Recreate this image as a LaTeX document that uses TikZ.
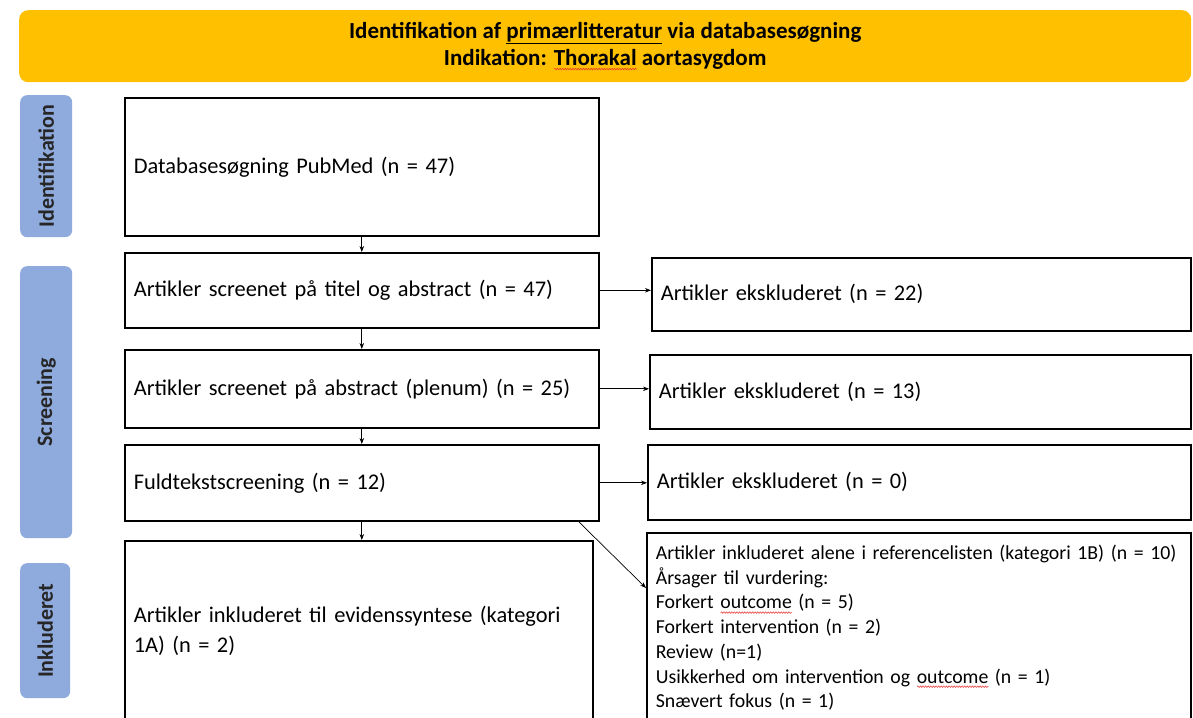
\documentclass[tikz,border=0pt]{standalone}
\usepackage{fontspec}
\setmainfont{Carlito}
\usetikzlibrary{arrows.meta,calc,decorations.pathmorphing}
\definecolor{headerorange}{HTML}{FFC000}
\definecolor{phaseblue}{HTML}{8FAADC}
\definecolor{spellred}{HTML}{E8322B}
% red wavy underline for flagged words
\newsavebox\wavebox
\newlength\wavelen
\newcommand\spellwave[1]{\leavevmode\sbox\wavebox{#1}\setlength\wavelen{\wd\wavebox}%
  \rlap{\tikz[baseline=0pt]\draw[spellred,line width=0.5pt,rounded corners=0pt,
      decorate,decoration={snake,amplitude=0.8pt,segment length=2.6pt}]
      (0pt,-3.6pt) -- (\wavelen,-3.6pt);}#1}
\begin{document}
\begin{tikzpicture}[x=1pt,y=-1pt,
  header/.style={draw=none,fill=headerorange,rounded corners=9pt,anchor=north west,
    minimum width=1172pt,minimum height=72pt,align=center,
    font=\fontsize{23}{27}\selectfont\bfseries},
  phase/.style={draw=none,fill=phaseblue,rounded corners=7pt,anchor=north west,
    minimum width=52pt},
  phasetext/.style={rotate=90,font=\fontsize{22}{24}\selectfont\bfseries,text=black!85},
  flowbox/.style={draw=black,line width=1.6pt,anchor=north west,align=left,
    inner xsep=9pt,font=\fontsize{22.4}{30}\selectfont},
  conn/.style={line width=0.7pt,-{Stealth[length=6pt,width=4.5pt]}}
]
\useasboundingbox (0,0) rectangle (1193,717);
\clip (0,0) rectangle (1193,717);
\fill[white] (0,0) rectangle (1193,717);

% title banner
\node[header] (hdr) at (19,10) {Identifikation af \underline{primærlitteratur} via databasesøgning\\
  Indikation: \spellwave{Thorakal} aortasygdom};

% phase labels
\node[phase,minimum height=142pt] (pid) at (20,95) {};
\node[phasetext] (tid) at (pid.center) {Identifikation};
\node[phase,minimum height=272pt] (psc) at (20,266) {};
\node[phasetext] (tsc) at (psc.center) {Screening};
\node[phase,minimum height=135pt,minimum width=50pt] (pin) at (20,563) {};
\node[phasetext] (tin) at (pin.center) {Inkluderet};

% main flow
\node[flowbox,text width=456pt,minimum height=138pt] (b1) at (124,97) {Databasesøgning PubMed (n = 47)};
\node[flowbox,text width=456pt,minimum height=75pt] (b2) at (124,252) {Artikler screenet på titel og abstract (n = 47)};
\node[flowbox,text width=456pt,minimum height=78pt] (b3) at (124,349) {Artikler screenet på abstract (plenum) (n = 25)};
\node[flowbox,text width=456pt,minimum height=76pt] (b4) at (124,444) {Fuldtekstscreening (n = 12)};
\node[flowbox,text width=450pt,minimum height=180pt] (b5) at (124,540) {Artikler inkluderet til evidenssyntese (kategori\\1A) (n = 2)};

% exclusions
\node[flowbox,text width=521pt,minimum height=73pt] (r1) at (651,257) {Artikler ekskluderet (n = 22)};
\node[flowbox,text width=523pt,minimum height=74pt] (r2) at (649,354) {Artikler ekskluderet (n = 13)};
\node[flowbox,text width=525pt,minimum height=75pt] (r3) at (647,444) {Artikler ekskluderet (n = 0)};
\node[flowbox,text width=526pt,minimum height=190pt,
  font=\fontsize{19.8}{24.7}\selectfont] (r4) at (646,532) {Artikler inkluderet alene i referencelisten (kategori 1B) (n = 10)\\
  Årsager til vurdering:\\
  Forkert \spellwave{outcome} (n = 5)\\
  Forkert intervention (n = 2)\\
  Review (n=1)\\
  Usikkerhed om intervention og \spellwave{outcome} (n = 1)\\
  Snævert fokus (n = 1)};

% connectors
\draw[conn] (b1.south) -- (b2.north);
\draw[conn] (b2.south) -- (b3.north);
\draw[conn] (b3.south) -- (b4.north);
\draw[conn] (b4.south) -- (b4.south |- b5.north);
\draw[conn] (b2.east) -- (b2.east -| r1.west);
\draw[conn] (b3.east) -- (b3.east -| r2.west);
\draw[conn] (b4.east) -- (b4.east -| r3.west);
\coordinate (dstart) at ($(b4.south east)+(-21,0)$);
\coordinate (dend) at ($(r4.north west)+(0,56)$);
\draw[conn] (dstart) -- (dend);
\end{tikzpicture}
\end{document}
